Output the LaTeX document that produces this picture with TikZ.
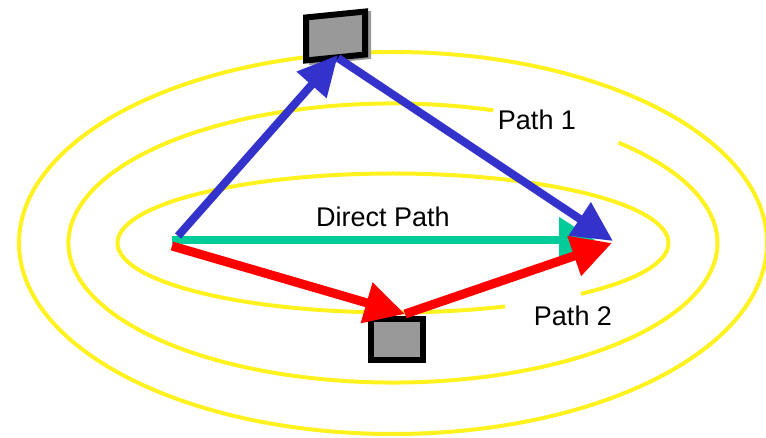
\documentclass[tikz,border=0pt]{standalone}
\usepackage{fontspec}
\setmainfont{Liberation Sans}
\usetikzlibrary{arrows.meta}
\definecolor{ringyellow}{RGB}{255,242,30}
\definecolor{pathblue}{RGB}{51,51,204}
\definecolor{pathred}{RGB}{255,0,0}
\definecolor{pathgreen}{RGB}{0,204,153}
\definecolor{boxgray}{RGB}{153,153,153}
\begin{document}
\begin{tikzpicture}[x=1pt,y=1pt,
  ring/.style={draw=ringyellow, line width=4pt},
  relaybox/.style={draw=black, line width=6pt, fill=boxgray, rectangle, inner sep=0pt},
  boxshadow/.style={fill=boxgray, rectangle, inner sep=0pt},
  bluearrow/.style={draw=pathblue, line width=8pt, -{Triangle[length=40pt,width=38pt]}},
  redarrow/.style={draw=pathred, line width=9pt, -{Triangle[length=40pt,width=40pt]}},
  greenarrow/.style={draw=pathgreen, line width=8pt, -{Triangle[length=36pt,width=44pt]}},
  lbl/.style={font=\fontsize{27}{30}\selectfont, inner sep=0pt}
]
\useasboundingbox (0,0) rectangle (766,437);
\fill[white] (0,0) rectangle (766,437);
\coordinate (c) at (393,194);
% yellow rings
\draw[ring] (c) ellipse [x radius=374, y radius=191];
\draw[ring] ([shift={(72:324.5 and 139.5)}]c) arc[start angle=72, end angle=406, x radius=324.5, y radius=139.5];
\draw[ring] ([shift={(-47:275.5 and 69.5)}]c) arc[start angle=-47, end angle=294, x radius=275.5, y radius=69.5];
% relay boxes
\node[boxshadow, minimum width=62pt, minimum height=48pt, yslant=0.1] (topshadow) at (340,399) {};
\node[relaybox, minimum width=59pt, minimum height=43pt, yslant=0.1] (relaytop) at (335.5,401) {};
\node[relaybox, minimum width=52pt, minimum height=41pt] (relaybot) at (397,97.5) {};
% path end points
\coordinate (src) at (172,197);
\coordinate (srcblue) at (178,201);
\coordinate (srcred) at (172,191);
\coordinate (topin) at (338,382);
\coordinate (topout) at (338,379);
\coordinate (dst) at (613,196);
\coordinate (dstgreen) at (595,197);
\coordinate (dstred) at (612,194);
\coordinate (botin) at (405,123);
% arrows
\draw[greenarrow] (src) -- (dstgreen);
\draw[redarrow] (srcred) -- (botin);
\draw[redarrow] (botin) -- (dstred);
\draw[bluearrow] (srcblue) -- (topin);
\draw[bluearrow] (topout) -- (dst);
% labels
\node[lbl] (lpath1) at (537,317) {Path 1};
\node[lbl] (ldirect) at (383,220) {Direct Path};
\node[lbl] (lpath2) at (573,121) {Path 2};
\end{tikzpicture}
\end{document}
